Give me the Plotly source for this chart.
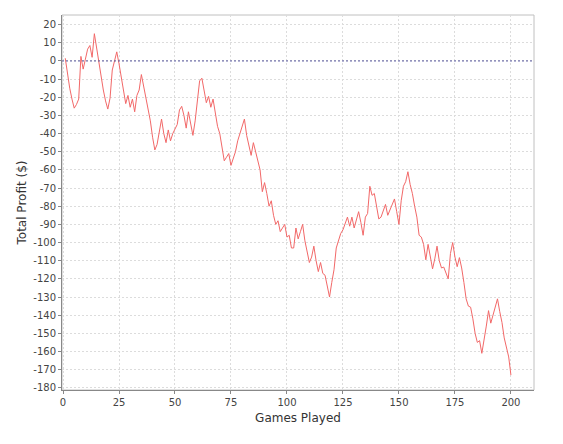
import plotly.graph_objects as go

games = list(range(1, 201))
profit = [
    1.5, -7, -15, -21, -26, -24, -21, 2.5, -4.5, 1,
    6.5, 8.5, 2, 15, 7, 0.5, -8, -16, -22, -26.5,
    -20.5, -5, 0, 5, -1.5, -9, -17, -23.5, -19, -25.5,
    -21, -28, -19, -16, -7.5, -14, -20, -25, -33, -42,
    -49, -46, -39, -32, -40, -45, -38, -44, -40, -37,
    -35, -27, -25, -30, -37, -28, -35, -41, -33, -20,
    -11, -9.5, -17, -23, -19.5, -25.5, -21, -30, -36, -40,
    -48, -55, -53, -51, -57.5, -54, -50, -44, -40, -36,
    -32, -41, -46, -52, -45, -50, -55, -60, -72, -67,
    -73, -80, -77, -85, -90, -88, -94, -92, -90, -97,
    -96, -103, -103, -92, -98, -94, -90, -99, -105, -111,
    -108, -102, -110, -116, -111, -117, -118, -124, -130, -122,
    -115, -103, -99, -95, -93, -90, -86, -91, -86, -92,
    -87, -83, -89, -96, -86, -84, -69, -74, -73, -80,
    -87, -86, -82, -79, -85, -82, -79, -76, -83, -90,
    -77, -69, -66.5, -61, -68, -73, -80, -86, -96, -97,
    -101, -109.5, -101, -107, -114.5, -109, -102, -110, -114, -113.5,
    -117, -120, -106, -100, -108, -113.3, -108.3, -114, -122, -131,
    -135, -135.6, -142, -150, -155, -154, -161, -152, -146, -137.5,
    -144.4, -140, -136, -131, -138, -144, -152.5, -157, -163, -173,
]

x_ticks = list(range(0, 201, 25))
y_ticks = list(range(-180, 21, 10))

fig = go.Figure()
fig.add_trace(go.Scatter(
    x=games, y=profit, mode="lines",
    line=dict(color="#f26868", width=1),
    hoverinfo="skip", showlegend=False,
))

fig.add_shape(type="line", xref="paper", yref="y", x0=0, x1=1, y0=0, y1=0,
              line=dict(color="#5a5aa0", width=1, dash="2px,2px"), layer="above")

axis_common = dict(
    showgrid=True, gridcolor="#dcdcdc", griddash="2px,2px", gridwidth=1,
    zeroline=False, showline=True, linecolor="#888888", linewidth=1,
    ticks="outside", ticklen=3, tickcolor="#888888",
    tickfont=dict(family="DejaVu Sans", size=10, color="#444444"),
    title_font=dict(family="DejaVu Sans", size=12, color="#333333"),
    mirror=False,
)

fig.update_xaxes(
    range=[-0.45, 210.3], tickvals=x_ticks, ticktext=[str(v) for v in x_ticks],
    title_text="Games Played", title_standoff=6, **axis_common,
)
fig.update_yaxes(
    range=[-181.2, 25.3], tickvals=y_ticks, ticktext=[str(v) for v in y_ticks],
    title_text="Total Profit ($)", title_standoff=4, **axis_common,
)

fig.add_shape(type="rect", xref="paper", yref="paper", x0=0, x1=1, y0=0, y1=1,
              line=dict(color="#c0c0c0", width=1), layer="below")

fig.update_layout(
    width=563, height=444,
    margin=dict(l=62, r=29, t=15, b=54),
    paper_bgcolor="white", plot_bgcolor="white",
    font=dict(family="DejaVu Sans"),
)

fig.write_html(
    "out.html",
    config={"displayModeBar": False, "staticPlot": True},
    post_script="document.body.style.margin='0';document.body.style.overflow='hidden';",
)
